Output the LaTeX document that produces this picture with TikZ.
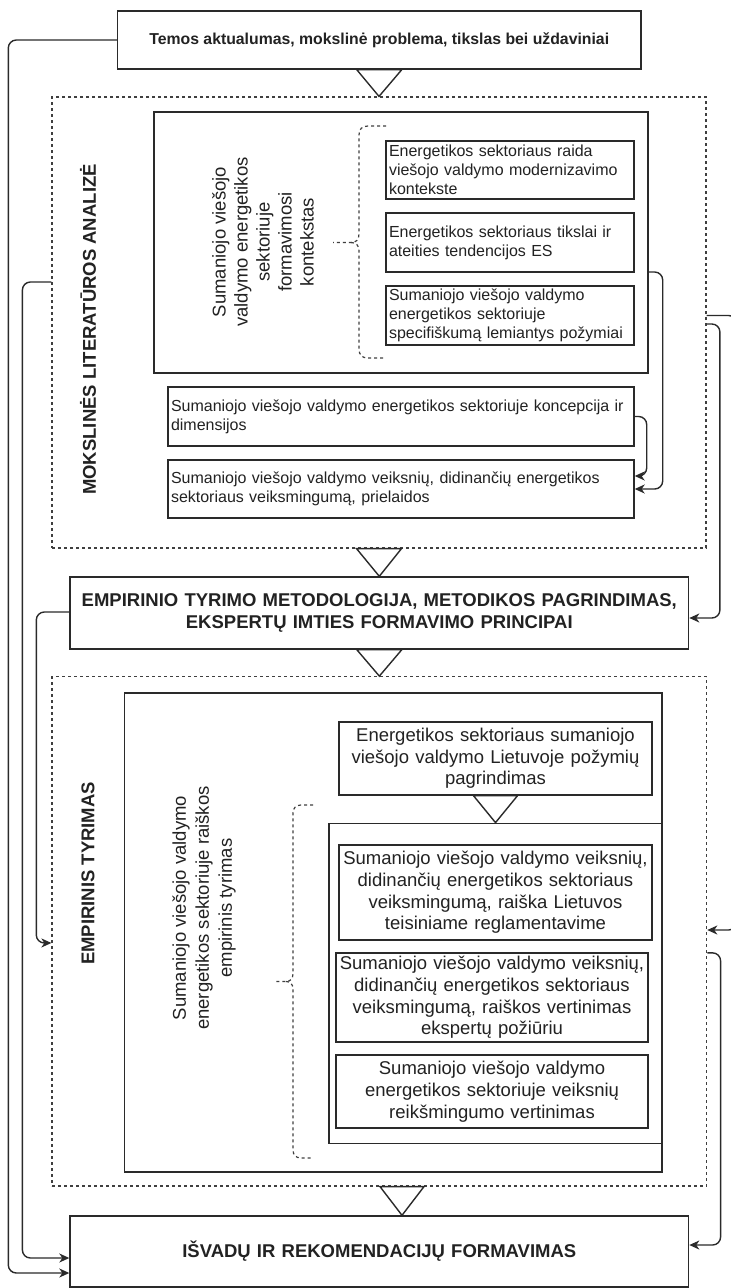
\documentclass[tikz,border=0pt]{standalone}
\usepackage{fontspec}
\setmainfont{Liberation Sans}
\usetikzlibrary{arrows.meta,calc}
\definecolor{ln}{HTML}{2A2A2A}
\definecolor{tx}{HTML}{222222}
\definecolor{dsh}{HTML}{3F3F3F}

\tikzset{
  box/.style={draw=ln, line width=1.4pt, fill=white, inner sep=0pt, text=tx},
  ubox/.style={box, inner xsep=3pt, font=\fontsize{16}{19.2}\selectfont, align=left},
  lbox/.style={box, inner xsep=2pt, font=\fontsize{18.5}{21.7}\selectfont, align=center},
  hbox/.style={box, inner xsep=2pt, font=\bfseries\fontsize{18.5}{22}\selectfont, align=center},
  group/.style={draw=dsh, line width=1.2pt, dash pattern=on 3pt off 3pt, inner sep=0pt},
  conn/.style={draw=ln, line width=1.4pt, rounded corners=8pt,
    -{Stealth[length=10pt,width=9pt,inset=3pt]}},
  tri/.style={draw=ln, line width=1.4pt, fill=white, line join=miter},
  brace/.style={draw=dsh, line width=1.2pt, dash pattern=on 3pt off 3pt},
  vlabel/.style={rotate=90, text=tx, inner sep=0pt, align=center},
  vbold/.style={vlabel, font=\bfseries\fontsize{18.5}{22}\selectfont},
}

\begin{document}
\begin{tikzpicture}[x=1pt,y=-1pt]
\useasboundingbox (0,0) rectangle (731,1288);

% ---- heading ----
\node[box, font=\bfseries\fontsize{15.8}{19}\selectfont,
      minimum width=523.5pt, minimum height=58pt] (top) at (379.25,40)
  {Temos aktualumas, mokslinė problema, tikslas bei uždaviniai};

% ---- literature analysis ----
\node[group, minimum width=654pt, minimum height=451pt] (lit) at (379,322.5) {};
\node[vbold] (litlbl) at (88,329.5) {MOKSLINĖS LITERATŪROS ANALIZĖ};
\node[box, minimum width=494pt, minimum height=261pt] (ctx) at (401,242.5) {};
\node[vlabel, font=\fontsize{18.5}{22}\selectfont] (ctxlbl) at (263,242)
  {Sumaniojo viešojo\\valdymo energetikos\\sektoriuje\\formavimosi\\kontekstas};
\node[ubox, minimum width=248pt, minimum height=58pt, text width=242pt] (b1) at (510,170)
  {Energetikos sektoriaus raida\\viešojo valdymo modernizavimo\\kontekste};
\node[ubox, minimum width=248pt, minimum height=59pt, text width=242pt] (b2) at (510,242.5)
  {Energetikos sektoriaus tikslai ir\\ateities tendencijos ES};
\node[ubox, minimum width=248pt, minimum height=59pt, text width=242pt] (b3) at (510,315.5)
  {Sumaniojo viešojo valdymo\\energetikos sektoriuje\\specifiškumą lemiantys požymiai};
\node[ubox, minimum width=466pt, minimum height=59pt, text width=460pt] (konc) at (401,416.5)
  {Sumaniojo viešojo valdymo energetikos sektoriuje koncepcija ir\\dimensijos};
\node[ubox, minimum width=466pt, minimum height=58pt, text width=460pt] (prie) at (401,489)
  {Sumaniojo viešojo valdymo veiksnių, didinančių energetikos\\sektoriaus veiksmingumą, prielaidos};

% brace grouping the three context boxes
\draw[brace] (386,126) -- (368,126) .. controls (362,126) and (359,129) .. (359,135)
  -- (359,234) .. controls (359,240) and (356,242.5) .. (351,242.5) -- (333,242.5);
\draw[brace] (351,242.5) .. controls (356,242.5) and (359,245) .. (359,251)
  -- (359,349) .. controls (359,355) and (362,358) .. (368,358) -- (386,358);

% ---- methodology ----
\node[hbox, minimum width=618.6pt, minimum height=72pt, text width=614pt] (emp) at (379.3,613)
  {EMPIRINIO TYRIMO METODOLOGIJA, METODIKOS PAGRINDIMAS,\\EKSPERTŲ IMTIES FORMAVIMO PRINCIPAI};

% ---- empirical research ----
\node[group, minimum width=654.7pt, minimum height=509.3pt] (tyr) at (379.35,931.35) {};
\node[vbold] (tyrlbl) at (88,873.5) {EMPIRINIS TYRIMAS};
\node[box, minimum width=537.5pt, minimum height=479pt] (exp) at (393.25,932.5) {};
\node[vlabel, font=\fontsize{18.5}{23}\selectfont] (explbl) at (204,908)
  {Sumaniojo viešojo valdymo\\energetikos sektoriuje raiškos\\empirinis tyrimas};
\node[lbox, minimum width=313pt, minimum height=73pt, text width=309pt] (ea) at (495.5,758.5)
  {Energetikos sektoriaus sumaniojo\\viešojo valdymo Lietuvoje požymių\\pagrindimas};
\node[box, minimum width=333pt, minimum height=320pt] (sub) at (495.5,983.3) {};
\node[lbox, minimum width=313pt, minimum height=95pt, text width=309pt] (ra) at (495.5,892.5)
  {Sumaniojo viešojo valdymo veiksnių,\\didinančių energetikos sektoriaus\\veiksmingumą, raiška Lietuvos\\teisiniame reglamentavime};
\node[lbox, minimum width=312pt, minimum height=89pt, text width=308pt] (rb) at (492,997.5)
  {Sumaniojo viešojo valdymo veiksnių,\\didinančių energetikos sektoriaus\\veiksmingumą, raiškos vertinimas\\ekspertų požiūriu};
\node[lbox, minimum width=312pt, minimum height=73pt, text width=308pt] (rc) at (492,1091.5)
  {Sumaniojo viešojo valdymo\\energetikos sektoriuje veiksnių\\reikšmingumo vertinimas};

% brace grouping the research steps
\draw[brace] (313,805) -- (301,805) .. controls (296,805) and (293,808) .. (293,813)
  -- (293,974) .. controls (293,979) and (290,981.5) .. (286,981.5) -- (275,981.5);
\draw[brace] (286,981.5) .. controls (290,981.5) and (293,984) .. (293,989)
  -- (293,1150) .. controls (293,1155) and (296,1158) .. (301,1158) -- (313,1158);

% ---- conclusions ----
\node[hbox, minimum width=618.6pt, minimum height=71pt, text width=614pt] (fin) at (379.3,1251.5)
  {IŠVADŲ IR REKOMENDACIJŲ FORMAVIMAS};

% ---- flow triangles ----
\draw[tri] ($(top.south)+(-22.5,0)$) -- (lit.north) -- ($(top.south)+(22.5,0)$) -- cycle;
\draw[tri] ($(lit.south)+(-22.5,0)$) -- (emp.north) -- ($(lit.south)+(22.5,0)$) -- cycle;
\draw[tri] ($(emp.south)+(-22.5,0)$) -- (tyr.north) -- ($(emp.south)+(22.5,0)$) -- cycle;
\draw[tri] ($(ea.south)+(-22,0)$) -- (sub.north) -- ($(ea.south)+(22,0)$) -- cycle;
\draw[tri] ($(tyr.south)+(0.65,0)$) -- ($(fin.north)+(22.7,0)$) -- ($(tyr.south)+(44.65,0)$) -- cycle;

% ---- feedback connectors, left side ----
\draw[conn] (top.west) -- ++(-108.5,0) |- ($(fin.west)+(0,21.5)$);
\draw[conn] ($(lit.west)+(0,-40.5)$) -- ++(-29,0) |- ($(fin.west)+(0,6.5)$);
\draw[conn] ($(emp.west)+(0,-1)$) -- ++(-33,0) |- ($(tyr.west)+(0,11.6)$);

% ---- connectors, right side ----
\draw[conn] ($(ctx.east)+(0,29.5)$) -- ++(14,0) |- (prie.east);
\draw[conn] (konc.east) -- ++(12,0) |- ($(prie.east)+(0,-13)$);
\draw[conn] ($(lit.east)+(0,1.5)$) -- ++(13.3,0) |- ($(emp.east)+(0,5)$);
\draw[conn] ($(tyr.east)+(0,21.5)$) -- ++(13.3,0) |- ($(fin.east)+(0,-6.5)$);
\begin{scope}
  \clip (0,0) rectangle (731,1288);
  \draw[conn] ($(lit.east)+(0,-7)$) -- ++(30,0) |- ($(tyr.east)+(0,-1.35)$);
\end{scope}
\end{tikzpicture}
\end{document}
